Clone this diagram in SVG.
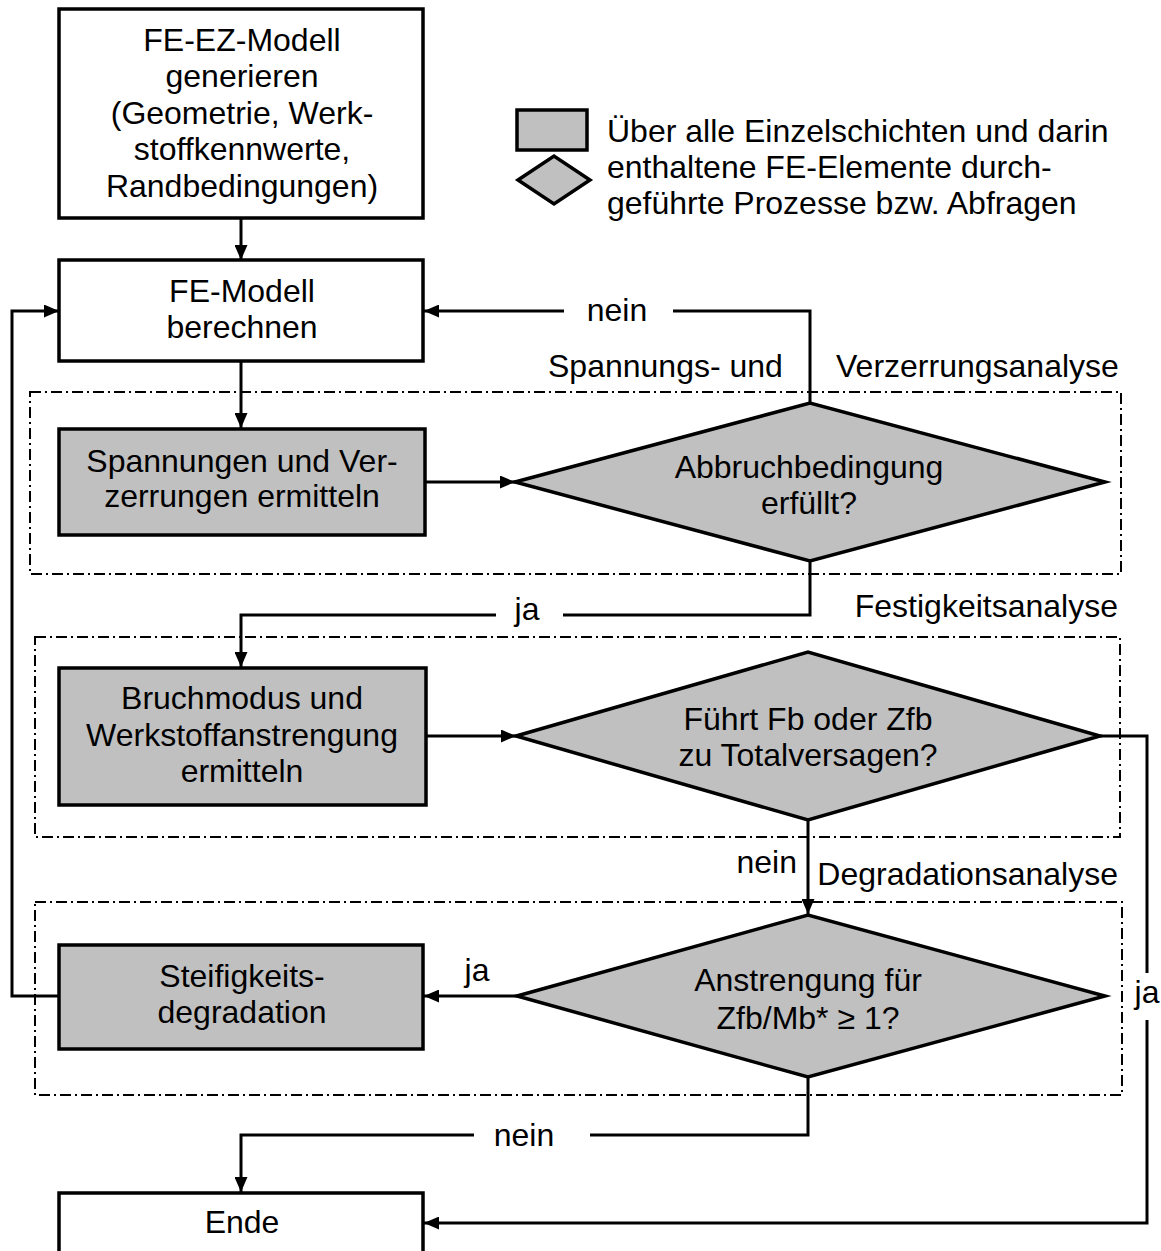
<svg xmlns="http://www.w3.org/2000/svg" width="1161" height="1251" viewBox="0 0 1161 1251">
<defs>
<style>
text{font-family:"Liberation Sans",Arial,sans-serif;font-size:32px;fill:#000}
.c{text-anchor:middle}
.e{text-anchor:end}
.box{fill:#fff;stroke:#000;stroke-width:3.5}
.gbox{fill:#c0c0c0;stroke:#000;stroke-width:3.5}
.dia{fill:#c0c0c0;stroke:#000;stroke-width:3.5;stroke-linejoin:miter}
.grp{fill:none;stroke:#000;stroke-width:2;stroke-dasharray:11 4 2 4}
.ln{fill:none;stroke:#000;stroke-width:3}
</style>
<marker id="ah" viewBox="0 0 15 13" refX="15" refY="6.5" markerWidth="15" markerHeight="13" markerUnits="userSpaceOnUse" orient="auto">
<path d="M0,0 L15,6.5 L0,13 Z" fill="#000"/>
</marker>
</defs>
<rect width="1161" height="1251" fill="#fff"/>

<g id="groups">
<rect class="grp" x="30" y="392" width="1091" height="182"/>
<rect class="grp" x="35" y="637" width="1085" height="200"/>
<rect class="grp" x="35" y="902" width="1087" height="193"/>
<text x="548" y="377">Spannungs- und</text>
<text x="836" y="377">Verzerrungsanalyse</text>
<text class="e" x="1118" y="617">Festigkeitsanalyse</text>
<text class="e" x="1118" y="885">Degradationsanalyse</text>
</g>

<g id="legend">
<rect class="gbox" x="517" y="110" width="70" height="40" stroke-width="4"/>
<polygon class="dia" points="518,180 554,156 590,180 554,204" stroke-width="4"/>
<text x="607" y="142">Über alle Einzelschichten und darin</text>
<text x="607" y="178">enthaltene FE-Elemente durch-</text>
<text x="607" y="214">geführte Prozesse bzw. Abfragen</text>
</g>

<g id="connectors">
<path class="ln" d="M241,218 V260" marker-end="url(#ah)"/>
<path class="ln" d="M241,361 V428" marker-end="url(#ah)"/>
<path class="ln" d="M424,482 H515" marker-end="url(#ah)"/>
<path class="ln" d="M810,403 V311 H673"/>
<path class="ln" d="M564,311 H424" marker-end="url(#ah)"/>
<text class="c" x="617" y="321">nein</text>
<path class="ln" d="M810,561 V615 H563"/>
<path class="ln" d="M496,615 H241 V667" marker-end="url(#ah)"/>
<text class="c" x="527" y="620">ja</text>
<path class="ln" d="M425,736 H516" marker-end="url(#ah)"/>
<path class="ln" d="M1100,736 H1147 V973"/>
<path class="ln" d="M1147,1020 V1223 H424" marker-end="url(#ah)"/>
<text class="c" x="1147" y="1003">ja</text>
<path class="ln" d="M808,820 V914" marker-end="url(#ah)"/>
<text class="e" x="797" y="873">nein</text>
<path class="ln" d="M517,996 H424" marker-end="url(#ah)"/>
<text class="c" x="477" y="981">ja</text>
<path class="ln" d="M808,1077 V1135 H590"/>
<path class="ln" d="M474,1135 H241 V1192" marker-end="url(#ah)"/>
<text class="c" x="524" y="1146">nein</text>
<path class="ln" d="M58,996 H12 V311 H59" marker-end="url(#ah)"/>
</g>

<g id="n-generate">
<rect class="box" x="59" y="9" width="364" height="209"/>
<text class="c" x="242" y="51">FE-EZ-Modell</text>
<text class="c" x="242" y="87">generieren</text>
<text class="c" x="242" y="124">(Geometrie, Werk-</text>
<text class="c" x="242" y="160">stoffkennwerte,</text>
<text class="c" x="242" y="197">Randbedingungen)</text>
</g>

<g id="n-compute">
<rect class="box" x="59" y="260" width="364" height="101"/>
<text class="c" x="242" y="302">FE-Modell</text>
<text class="c" x="242" y="338">berechnen</text>
</g>

<g id="n-stress">
<rect class="gbox" x="59" y="429" width="366" height="106"/>
<text class="c" x="242" y="472">Spannungen und Ver-</text>
<text class="c" x="242" y="507">zerrungen ermitteln</text>
</g>

<g id="d-abort">
<polygon class="dia" points="515,482 810,403 1105,482 810,561"/>
<text class="c" x="809" y="478">Abbruchbedingung</text>
<text class="c" x="809" y="514">erfüllt?</text>
</g>

<g id="n-fracture">
<rect class="gbox" x="59" y="668" width="367" height="137"/>
<text class="c" x="242" y="709">Bruchmodus und</text>
<text class="c" x="242" y="746">Werkstoffanstrengung</text>
<text class="c" x="242" y="782">ermitteln</text>
</g>

<g id="d-total">
<polygon class="dia" points="516,736 808,652 1100,736 808,820"/>
<text class="c" x="808" y="730">Führt Fb oder Zfb</text>
<text class="c" x="808" y="766">zu Totalversagen?</text>
</g>

<g id="n-degrade">
<rect class="gbox" x="59" y="945" width="364" height="104"/>
<text class="c" x="242" y="987">Steifigkeits-</text>
<text class="c" x="242" y="1023">degradation</text>
</g>

<g id="d-strain">
<polygon class="dia" points="517,996 808,915 1105,996 808,1077"/>
<text class="c" x="808" y="991">Anstrengung für</text>
<text class="c" x="808" y="1029">Zfb/Mb* ≥ 1?</text>
</g>

<g id="n-end">
<rect class="box" x="59" y="1193" width="364" height="80"/>
<text class="c" x="242" y="1233">Ende</text>
</g>
</svg>
